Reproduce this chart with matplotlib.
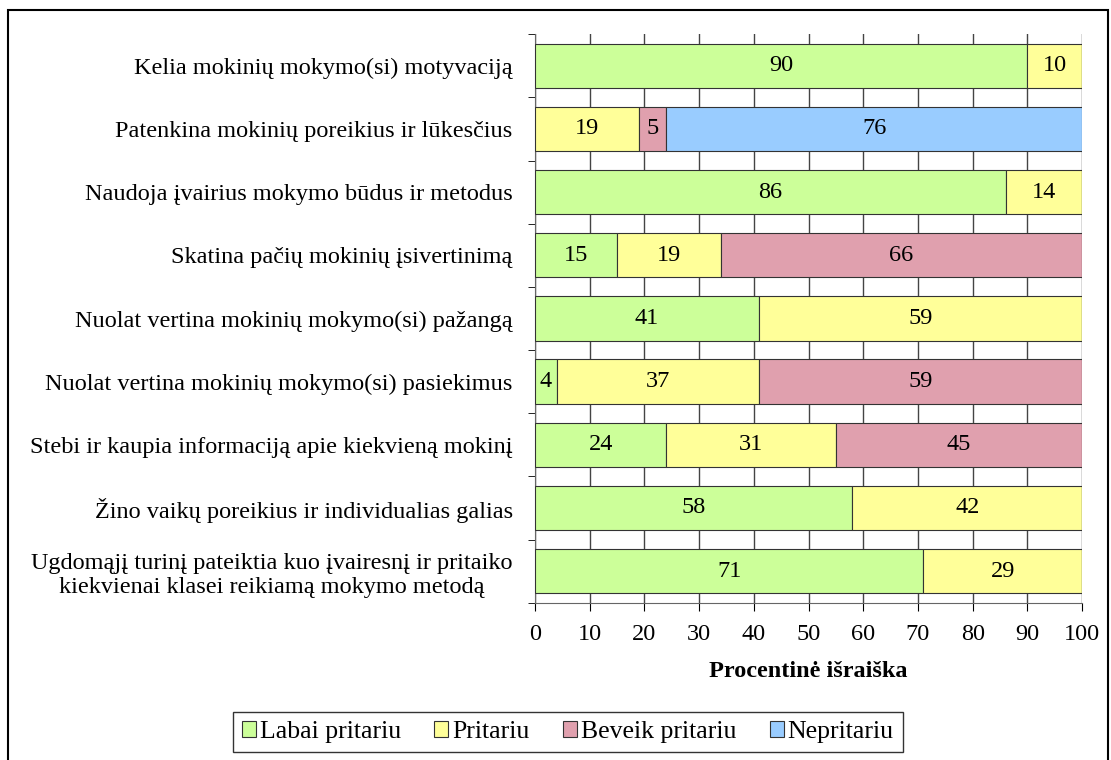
import numpy as np
import matplotlib
matplotlib.use("Agg")
from matplotlib import pyplot as plt
from matplotlib.patches import Rectangle

plt.rcParams['font.family'] = ['Liberation Serif', 'DejaVu Serif']

# categories, top to bottom
categories = [
    "Kelia mokinių mokymo(si) motyvaciją",
    "Patenkina mokinių poreikius ir lūkesčius",
    "Naudoja įvairius mokymo būdus ir metodus",
    "Skatina pačių mokinių įsivertinimą",
    "Nuolat vertina mokinių mokymo(si) pažangą",
    "Nuolat vertina mokinių mokymo(si) pasiekimus",
    "Stebi ir kaupia informaciją apie kiekvieną mokinį",
    "Žino vaikų poreikius ir individualias galias",
    "Ugdomąjį turinį pateiktia kuo įvairesnį ir pritaiko\nkiekvienai klasei reikiamą mokymo metodą",
]
labai = [90, 0, 86, 15, 41, 4, 24, 58, 71]
pritariu = [10, 19, 14, 19, 59, 37, 31, 42, 29]
beveik = [0, 5, 0, 66, 0, 59, 45, 0, 0]
nepritariu = [0, 76, 0, 0, 0, 0, 0, 0, 0]

series = [("Labai pritariu", labai, "#CCFF99"),
          ("Pritariu", pritariu, "#FFFF99"),
          ("Beveik pritariu", beveik, "#E0A0AE"),
          ("Nepritariu", nepritariu, "#99CCFF")]

FS = 17.5

fig = plt.figure(figsize=(11.11, 7.6), dpi=100)
ax = fig.add_axes([0.4815, 0.207, 0.4925, 0.748])

y = np.arange(len(categories))
left = np.zeros(len(categories))
handles = []
for name, vals, col in series:
    vals = np.array(vals, dtype=float)
    bars = ax.barh(y, vals, left=left, height=0.7, color=col,
                   edgecolor="#333333", linewidth=0.8, label=name, zorder=3)
    for i, v in enumerate(vals):
        if v > 0:
            ax.text(left[i] + v / 2, y[i], f"{int(v)}", ha="center",
                    va="center", fontsize=FS, zorder=4)
    left += vals
    handles.append(bars)

ax.set_xlim(0, 100)
ax.set_ylim(len(categories) - 0.5, -0.5)
ax.set_xticks(np.arange(0, 101, 10))
ax.tick_params(axis="x", labelsize=FS, length=6, direction="out", pad=9)
ax.set_yticks(y)
ax.set_yticklabels(categories, fontsize=FS, multialignment="center")
ax.tick_params(axis="y", length=0, pad=16)
ax.set_yticks(np.arange(-0.5, len(categories), 1), minor=True)
ax.tick_params(axis="y", which="minor", length=5)
ax.xaxis.grid(True, color="#444444", linewidth=1.0, zorder=0)
ax.set_axisbelow(True)
for s in ["top", "right"]:
    ax.spines[s].set_visible(False)
ax.spines["left"].set_color("#666666")
ax.spines["bottom"].set_color("#666666")
ax.set_xlabel("Procentinė išraiška", fontsize=FS, fontweight="bold", labelpad=12)

leg = fig.legend(handles=handles, loc="center", bbox_to_anchor=(0.511, 0.037),
                 ncol=4, fontsize=18.5, frameon=True, fancybox=False,
                 edgecolor="black", handlelength=0.55, handleheight=0.55,
                 handletextpad=0.15, columnspacing=1.3, borderpad=0.35)
leg.get_frame().set_linewidth(1.0)
for h in leg.legend_handles:
    h.set_edgecolor("#333333")

fig.patches.append(Rectangle((0.0075, -0.01), 0.99, 0.997, transform=fig.transFigure,
                             fill=False, edgecolor="black", linewidth=1.5))

fig.savefig("out.png", dpi=100)
